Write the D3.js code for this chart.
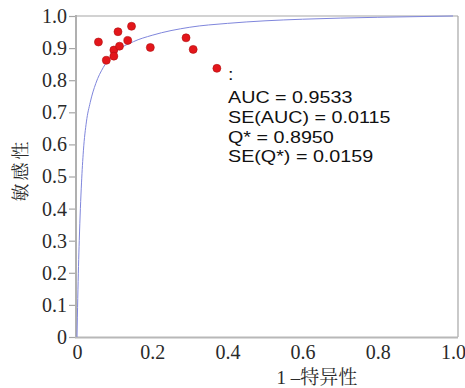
<!DOCTYPE html>
<html>
<head>
<meta charset="utf-8">
<script src="https://cdn.jsdelivr.net/npm/d3@7"></script>
</head>
<body style="margin:0;background:#fff">
<div id="chart"></div>
<script>
// study points (1 - specificity, sensitivity)
var studyFpr  = [0.057, 0.078, 0.098, 0.098, 0.109, 0.113, 0.135, 0.145, 0.195, 0.290, 0.309, 0.372];
var studySens = [0.919, 0.862, 0.894, 0.875, 0.951, 0.906, 0.924, 0.968, 0.902, 0.932, 0.896, 0.837];

// SROC curve
var curveFpr  = [0, 0.002, 0.004, 0.006, 0.009, 0.012, 0.017, 0.025, 0.035, 0.05, 0.07, 0.1, 0.15, 0.2, 0.3, 0.4, 0.5, 0.6, 0.8, 1.0];
var curveSens = [0, 0.12, 0.22, 0.30, 0.40, 0.48, 0.58, 0.67, 0.73, 0.79, 0.84, 0.885, 0.92, 0.94, 0.965, 0.977, 0.985, 0.99, 0.996, 1.0];

var xTicks = [0, 0.2, 0.4, 0.6, 0.8, 1.0];
var xTickLabels = ["0", "0.2", "0.4", "0.6", "0.8", "1.0"];
var yTicks = [0, 0.1, 0.2, 0.3, 0.4, 0.5, 0.6, 0.7, 0.8, 0.9, 1.0];
var yTickLabels = ["0", "0.1", "0.2", "0.3", "0.4", "0.5", "0.6", "0.7", "0.8", "0.9", "1.0"];

var statLines = ["AUC = 0.9533", "SE(AUC) = 0.0115", "Q* = 0.8950", "SE(Q*) = 0.0159"];

var width = 465, height = 388;
var serif = "'Liberation Serif', 'Noto Serif CJK SC', serif";

var svg = d3.select("#chart").append("svg")
    .attr("width", width)
    .attr("height", height)
    .style("display", "block");

var x = d3.scaleLinear().domain([0, 1]).range([77, 453]);
var y = d3.scaleLinear().domain([0, 1]).range([337, 16]);

// frame: right and top thin
svg.append("line")
    .attr("x1", 76).attr("x2", 458).attr("y1", 16).attr("y2", 16)
    .attr("stroke", "#a6a6a6").attr("stroke-width", 1.2);
svg.append("line")
    .attr("x1", 458).attr("x2", 458).attr("y1", 16).attr("y2", 337)
    .attr("stroke", "#a6a6a6").attr("stroke-width", 1.2);

// y axis
var yAxis = d3.axisLeft(y)
    .tickValues(yTicks)
    .tickFormat(function(d, i) { return yTickLabels[i]; })
    .tickSizeInner(7)
    .tickSizeOuter(0)
    .tickPadding(2);

var gy = svg.append("g")
    .attr("transform", "translate(76,0)")
    .call(yAxis);
gy.select(".domain").remove();
gy.selectAll(".tick line").attr("stroke", "#a6a6a6").attr("stroke-width", 1.2);
gy.selectAll(".tick text")
    .style("font-family", serif)
    .style("font-size", "20px")
    .attr("fill", "#2a2a2a");

// x axis
var xAxis = d3.axisBottom(x)
    .tickValues(xTicks)
    .tickFormat(function(d, i) { return xTickLabels[i]; })
    .tickSize(0)
    .tickPadding(8);

var gx = svg.append("g")
    .attr("transform", "translate(0,337)")
    .call(xAxis);
gx.select(".domain").remove();
gx.selectAll(".tick text")
    .style("font-family", serif)
    .style("font-size", "20px")
    .attr("fill", "#2a2a2a");

// left + bottom thicker axis lines
svg.append("line")
    .attr("x1", 76).attr("x2", 76).attr("y1", 15).attr("y2", 338)
    .attr("stroke", "#b0b0b0").attr("stroke-width", 2);
svg.append("line")
    .attr("x1", 75).attr("x2", 458).attr("y1", 337.5).attr("y2", 337.5)
    .attr("stroke", "#b8b8b8").attr("stroke-width", 2);

// SROC curve
var curveData = curveFpr.map(function(f, i) { return [f, curveSens[i]]; });
var line = d3.line()
    .x(function(d) { return x(d[0]); })
    .y(function(d) { return y(d[1]); })
    .curve(d3.curveMonotoneX);

svg.append("path")
    .datum(curveData)
    .attr("d", line)
    .attr("fill", "none")
    .attr("stroke", "#7f86dc")
    .attr("stroke-width", 1);

// study points
var pts = studyFpr.map(function(f, i) { return [f, studySens[i]]; });
svg.append("g").selectAll("circle")
    .data(pts)
    .enter().append("circle")
    .attr("cx", function(d) { return x(d[0]); })
    .attr("cy", function(d) { return y(d[1]); })
    .attr("r", 4)
    .attr("fill", "#e3161b")
    .attr("stroke", "#b01010")
    .attr("stroke-width", 0.6);

// stats text
var stats = svg.append("g")
    .attr("transform", "translate(228,0) scale(1.16,1)")
    .style("font-family", "'Liberation Sans', Arial, sans-serif")
    .style("font-size", "17px")
    .attr("fill", "#111");

stats.append("text").attr("x", 0).attr("y", 80).text(":");
var baselines = [102.7, 123.3, 143.3, 161.7];
stats.selectAll("text.stat")
    .data(statLines)
    .enter().append("text")
    .attr("class", "stat")
    .attr("x", 0)
    .attr("y", function(d, i) { return baselines[i]; })
    .text(function(d) { return d; });

// axis titles
svg.append("text")
    .attr("x", 317)
    .attr("y", 384)
    .attr("text-anchor", "middle")
    .style("font-family", serif)
    .style("font-size", "19px")
    .attr("fill", "#2a2a2a")
    .text("1 –特异性");

svg.append("text")
    .attr("transform", "translate(27,170) rotate(-90)")
    .attr("text-anchor", "middle")
    .style("font-family", "'Noto Serif CJK SC', serif")
    .style("font-size", "18px")
    .attr("letter-spacing", 3)
    .attr("fill", "#2a2a2a")
    .text("敏感性");
</script>
</body>
</html>
